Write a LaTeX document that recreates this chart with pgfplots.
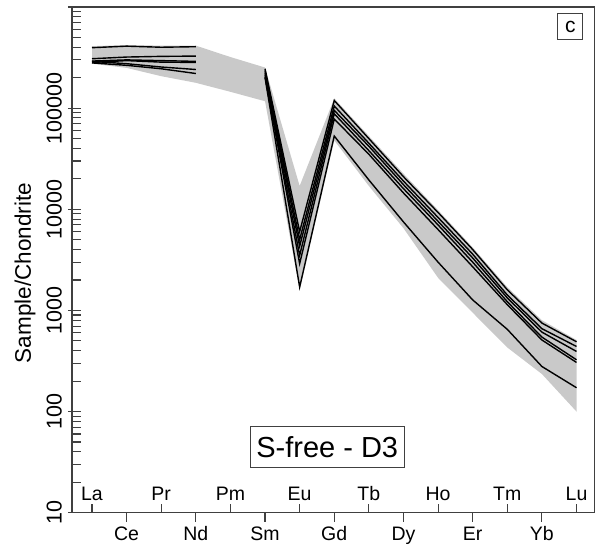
\documentclass[border=0pt]{standalone}
\usepackage{pgfplots}
\pgfplotsset{compat=1.18}
\usepackage{pgfplotstable}
\usepackage{fontspec}
\setmainfont{Liberation Sans}
\definecolor{axisgray}{gray}{0.25}
\definecolor{fieldgray}{gray}{0.79}
\pgfplotstableread{
x A B C D E F
0 396000 308000 292000 283000 290000 280000
1 410000 320000 300000 295000 275000 265000
2 400000 325000 295000 285000 255000 245000
3 405000 327000 290000 283000 241000 220000
4 nan nan nan nan nan nan
5 245000 235000 225000 215000 205000 200000
6 6000 5000 4300 3500 2900 1700
7 119000 105000 95000 88000 78000 53000
8 50000 45000 42000 38000 35000 19500
9 21000 19000 17500 16000 14500 7500
10 9300 8300 7600 7000 6300 3000
11 4000 3600 3300 3000 2700 1270
12 1600 1420 1330 1220 1140 650
13 750 660 610 545 510 279
14 490 440 393 325 306 172
}\lines
\begin{document}
\begin{tikzpicture}
\begin{axis}[
  scale only axis, width=522.5bp, height=505.7bp,
  ymode=log, ymin=10, ymax=1e6,
  xmin=-0.578, xmax=14.52,
  axis line style={axisgray, line width=1.1bp},
  every tick/.style={axisgray, line width=1.1bp},
  xtick pos=bottom, ytick pos=left,
  tick align=inside,
  major tick length=9bp, minor tick length=9bp,
  xtick={0,2,...,14}, xticklabels={La,Pr,Pm,Eu,Tb,Ho,Tm,Lu},
  xticklabel style={font=\fontsize{19.5bp}{22bp}\selectfont, anchor=base, yshift=12bp, inner sep=0pt},
  extra x ticks={1,3,...,13},
  extra x tick labels={Ce,Nd,Sm,Gd,Dy,Er,Yb},
  extra x tick style={tick align=outside, xticklabel style={yshift=-30.5bp}},
  ytick={10,100,1000,10000,100000,1000000},
  yticklabels={10,100,1000,10000,100000,{}},
  minor ytick={20,30,40,50,60,70,80,90,200,300,400,500,600,700,800,900,2000,3000,4000,5000,6000,7000,8000,9000,20000,30000,40000,50000,60000,70000,80000,90000,200000,300000,400000,500000,600000,700000,800000,900000},
  yticklabel style={font=\fontsize{21.5bp}{24bp}\selectfont, rotate=90, anchor=south, inner sep=0pt},
  yticklabel shift=10bp,
  extra y ticks={10,100,1000,10000,100000,1000000},
  extra y tick style={tick align=outside, major tick length=4bp, yticklabel={}},
  ylabel={Sample/Chondrite},
  every axis y label/.style={at={(rel axis cs:-0.090,0.474)}, anchor=center, rotate=90, font=\fontsize{22.5bp}{26bp}\selectfont},
  clip=true,
]
\coordinate (sw) at (rel axis cs:0,0);
\coordinate (ne) at (rel axis cs:1,1);
\addplot[fill=fieldgray, draw=none] coordinates {
 (0,410000) (1,420000) (2,415000) (3,415000) (4,320000) (5,252000) (6,17000) (7,125000) (8,53000) (9,22500) (10,9800) (11,4200) (12,1700) (13,800) (14,510)
 (14,100) (13,235) (12,430) (11,950) (10,2100) (9,6500) (8,17000) (7,48000) (6,1600) (5,117000) (4,145000) (3,178000) (2,207000) (1,250000) (0,275000)
} -- cycle;
\pgfplotsinvokeforeach{A,B,C,D,E,F}{
  \addplot[black, line width=1.4bp, mark=none, unbounded coords=jump] table[x=x, y=#1] {\lines};
}
\node[draw=axisgray, line width=1bp, fill=white, font=\fontsize{29bp}{32bp}\selectfont, minimum height=41bp, inner xsep=6bp, inner ysep=0pt] at (rel axis cs:0.4885,0.130) {S-free - D3};
\node[draw=axisgray, line width=1bp, fill=white, font=\fontsize{21bp}{24bp}\selectfont, minimum width=25bp, minimum height=26bp, inner sep=0pt] at (rel axis cs:0.954,0.9605) {c};
\end{axis}
\pgfresetboundingbox
\path[use as bounding box] ([xshift=-72bp,yshift=-33.3bp]sw) rectangle ([xshift=0.5bp,yshift=7bp]ne);
\end{tikzpicture}
\end{document}
